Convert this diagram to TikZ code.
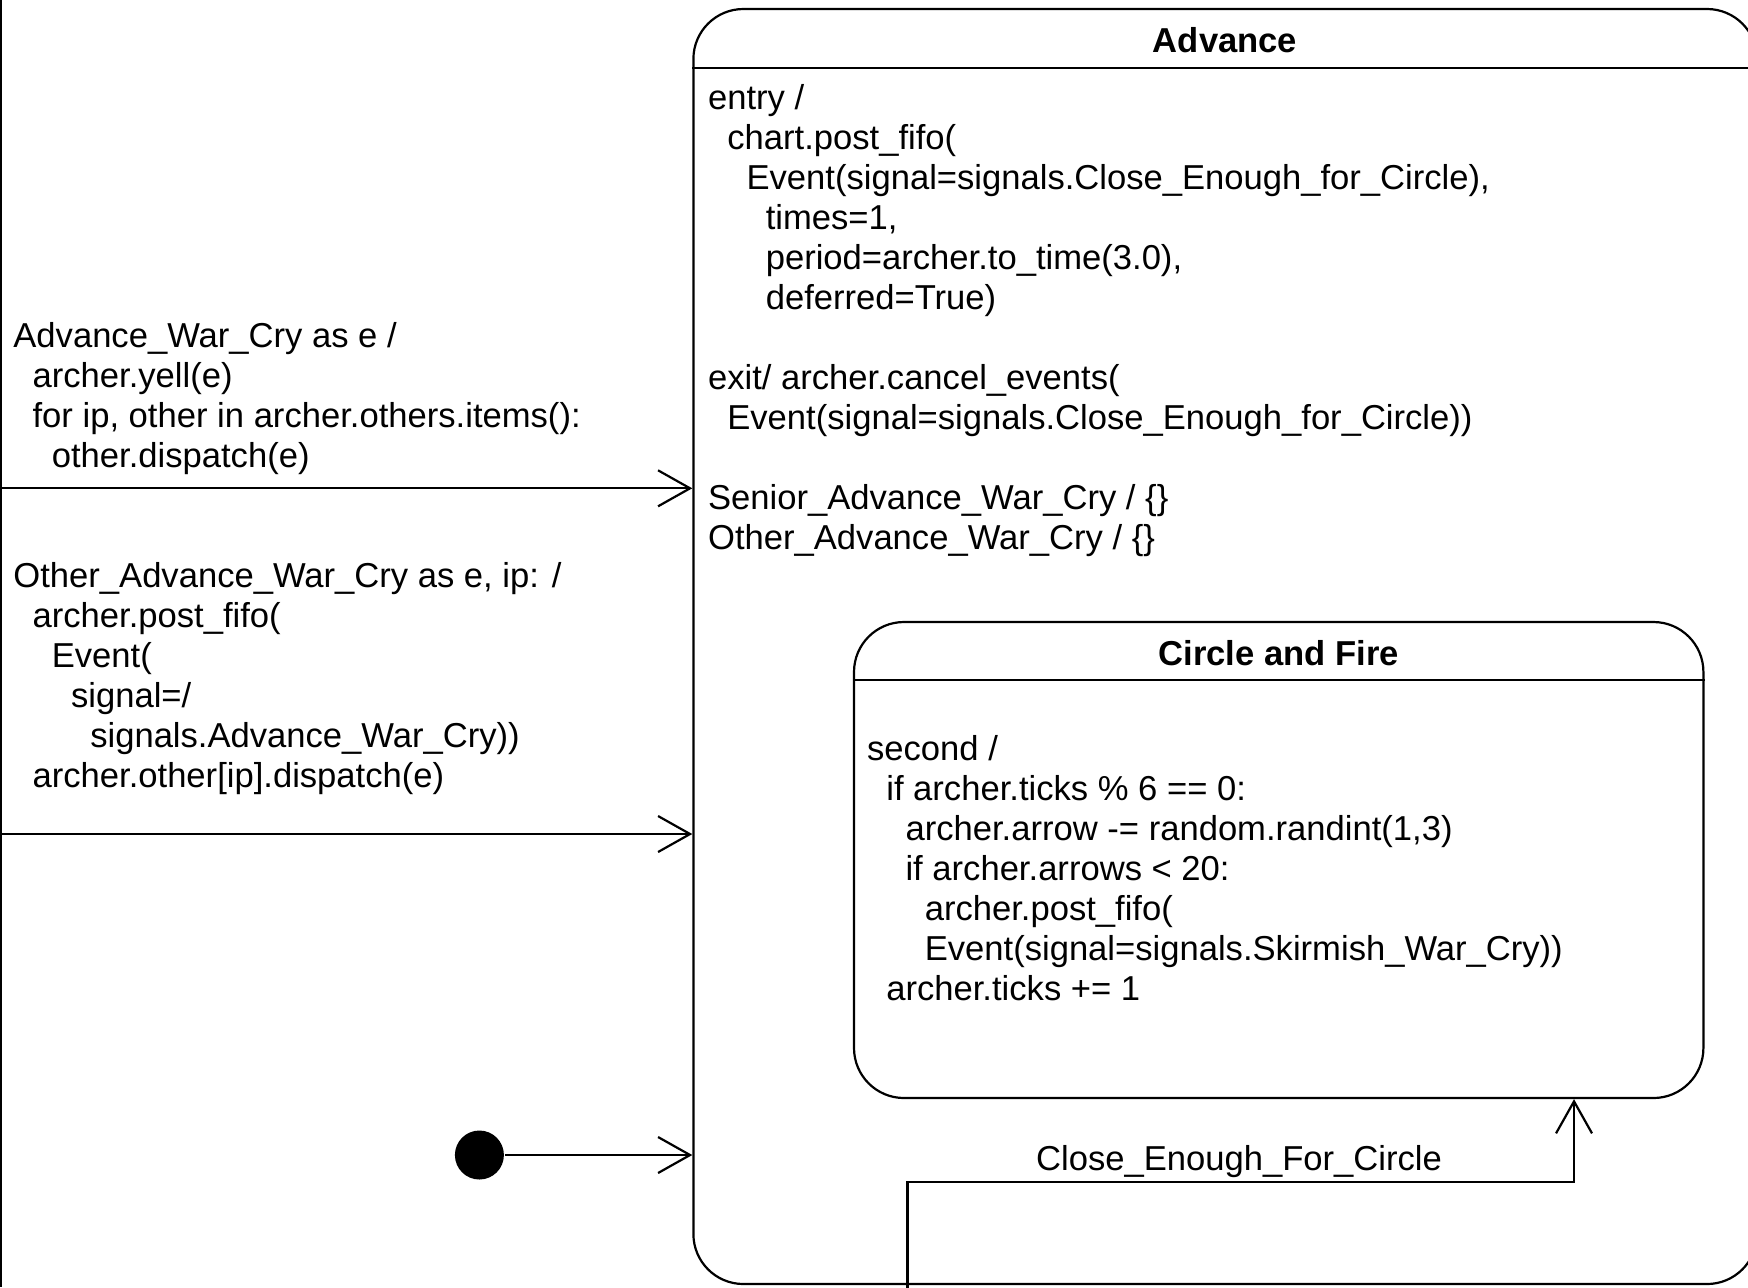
\documentclass[tikz,border=0pt]{standalone}
\usepackage{fontspec}
\setmainfont{Liberation Sans}
\usetikzlibrary{arrows.meta}
\newcommand{\myind}[1]{\hspace*{#1\fontdimen2\font}}
\begin{document}
\begin{tikzpicture}[x=0.5pt,y=-0.5pt,
  line width=1.1pt,
  txt/.style={font=\fontsize{17.3pt}{20pt}\selectfont, inner sep=0pt, align=left},
  ttl/.style={font=\fontsize{17.3pt}{20pt}\selectfont\bfseries, inner sep=0pt},
  state/.style={draw, rounded corners=25pt, inner sep=0pt, line width=1.1pt},
  trans/.style={-{Straight Barb[length=16pt,width=18pt]}},
  init/.style={circle, fill=black, minimum size=24.5pt, inner sep=0pt}
]
\clip (0,0) rectangle (1748,1287);

% outer left border
\coordinate (ltop) at (1,0);
\coordinate (lbot) at (1,1287);
\draw (ltop) -- (lbot);

% Advance state
\node[state, minimum width=531.8pt, minimum height=637.5pt] (adv) at (1225.2,646.5) {};
\draw ([yshift=-30pt]adv.north west) -- ([yshift=-30pt]adv.north east);
\node[ttl] (advt) at (1225,40) {Advance};
\node[txt, anchor=north west] (advbody) at (707,80) {\strut entry /\\
\myind{2}chart.post\_fifo(\\
\myind{4}Event(signal=signals.Close\_Enough\_for\_Circle),\\
\myind{6}times=1,\\
\myind{6}period=archer.to\_time(3.0),\\
\myind{6}deferred=True)\\
\strut\\
exit/ archer.cancel\_events(\\
\myind{2}Event(signal=signals.Close\_Enough\_for\_Circle))\\
\strut\\
Senior\_Advance\_War\_Cry / \{\}\\
Other\_Advance\_War\_Cry / \{\}};

% Circle and Fire state
\node[state, minimum width=424.7pt, minimum height=238pt] (circ) at (1278.7,860) {};
\draw ([yshift=-29.5pt]circ.north west) -- ([yshift=-29.5pt]circ.north east);
\node[ttl] (circt) at (1278.7,653) {Circle and Fire};
\node[txt, anchor=north west] (circbody) at (866,731) {\strut second /\\
\myind{2}if archer.ticks \% 6 == 0:\\
\myind{4}archer.arrow -= random.randint(1,3)\\
\myind{4}if archer.arrows < 20:\\
\myind{6}archer.post\_fifo(\\
\myind{6}Event(signal=signals.Skirmish\_War\_Cry))\\
\myind{2}archer.ticks += 1};

% transitions from the left
\coordinate (src1) at (1,488.3);
\coordinate (src2) at (1,834);
\draw[trans] (src1) -- (adv.west |- src1);
\draw[trans] (src2) -- (adv.west |- src2);
\node[txt, anchor=north west] (lbl1) at (12.3,318) {\strut Advance\_War\_Cry as e /\\
\myind{2}archer.yell(e)\\
\myind{2}for ip, other in archer.others.items():\\
\myind{4}other.dispatch(e)};
\node[txt, anchor=north west] (lbl2) at (12.3,558) {\strut Other\_Advance\_War\_Cry as e, ip: /\\
\myind{2}archer.post\_fifo(\\
\myind{4}Event(\\
\myind{6}signal=/\\
\myind{8}signals.Advance\_War\_Cry))\\
\myind{2}archer.other[ip].dispatch(e)};

% initial pseudo-state
\node[init] (start) at (479.4,1155) {};
\draw[trans] (start) -- (adv.west |- start);

% Close_Enough_For_Circle
\coordinate (cefs) at (907.4,1295);
\coordinate (cebend) at (1574,1181.7);
\draw[trans] (cefs) |- (cebend) -- (cebend |- circ.south);
\node[txt, anchor=base] (celbl) at (1239,1170) {Close\_Enough\_For\_Circle};
\end{tikzpicture}
\end{document}
